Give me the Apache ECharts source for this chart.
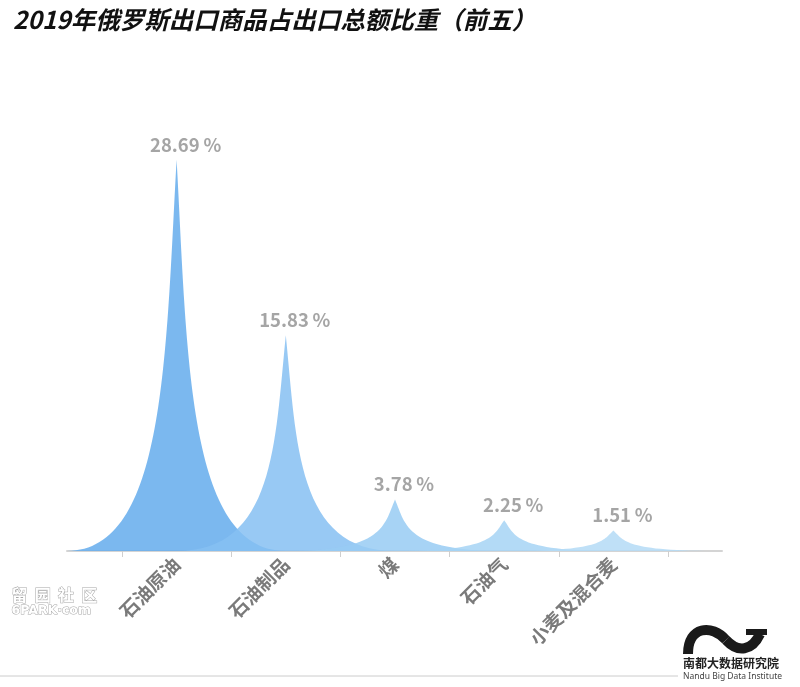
<!DOCTYPE html>
<html>
<head>
<meta charset="utf-8">
<script src="https://cdn.jsdelivr.net/npm/echarts@6/dist/echarts.min.js"></script>
<style>
html,body{margin:0;padding:0;background:#fff;}
#main{width:800px;height:687px;}
</style>
</head>
<body>
<div id="main"></div>
<script>
const categories = ['石油原油', '石油制品', '煤', '石油气', '小麦及混合麦'];
const values = [28.69, 15.83, 3.78, 2.25, 1.51];
const colors = ['#64abec', '#86c0f2', '#98cbf3', '#a6d3f4', '#b4dbf6'];
const titleText = '2019年俄罗斯出口商品占出口总额比重（前五）';

const spike = 'path://M0,10 L10,10 C5.5,10 5.5,5 5,0 C4.5,5 4.5,10 0,10 z';

const chart = echarts.init(document.getElementById('main'), null, {renderer: 'canvas'});
chart.setOption({
  backgroundColor: '#ffffff',
  animation: false,
  title: {
    text: titleText,
    left: 8, top: 2,
    textStyle: {
      fontFamily: 'Noto Sans CJK SC', fontSize: 24.5, fontWeight: 'bold',
      fontStyle: 'italic', color: '#111'
    }
  },
  grid: [
    {left: 122, right: 132, top: 142, bottom: 136},
    {left: 67, right: 78, top: 142, bottom: 136}
  ],
  xAxis: [
    {
      type: 'category', gridIndex: 0, data: categories,
      axisLine: {show: false},
      axisTick: {show: true, length: 6, lineStyle: {color: '#cfcfcf', width: 1}},
      axisLabel: {
        rotate: 45, margin: 10, interval: 0,
        fontFamily: 'Noto Sans CJK SC', fontSize: 19, fontWeight: 'bold',
        color: '#7a7a7a'
      }
    },
    {
      type: 'value', gridIndex: 1, min: 0, max: 1,
      axisLine: {show: true, onZero: false, lineStyle: {color: '#d4d4d4', width: 2}},
      axisTick: {show: false}, axisLabel: {show: false}, splitLine: {show: false}
    }
  ],
  yAxis: [
    {type: 'value', gridIndex: 0, min: 0, max: 30, show: false},
    {type: 'value', gridIndex: 1, min: 0, max: 1, show: false}
  ],
  series: [{
    type: 'pictorialBar',
    xAxisIndex: 0, yAxisIndex: 0,
    barCategoryGap: '-100%',
    symbol: spike,
    z: 10,
    data: values.map((v, i) => ({
      value: v,
      itemStyle: {color: colors[i], opacity: 0.85}
    })),
    label: {
      show: true, position: 'top', distance: 6,
      formatter: p => p.value + '\u2009%',
      fontFamily: 'Noto Sans CJK SC', fontSize: 18.5, fontWeight: 'bold',
      color: '#959595', offset: [9, 0]
    }
  }],
  graphic: [
    {type: 'line', shape: {x1: 0, y1: 676, x2: 678, y2: 676}, style: {stroke: '#cccccc', lineWidth: 1}},
    {type: 'bezierCurve', shape: {x1: 688, y1: 654, cpx1: 688, cpy1: 626, cpx2: 712, cpy2: 624, x2: 726, y2: 640},
     style: {fill: 'none', stroke: '#1a1a1a', lineWidth: 10}},
    {type: 'bezierCurve', shape: {x1: 726, y1: 640, cpx1: 738, cpy1: 653, cpx2: 752, cpy2: 651, x2: 760, y2: 634},
     style: {fill: 'none', stroke: '#1a1a1a', lineWidth: 10}},
    {type: 'line', shape: {x1: 746, y1: 632, x2: 767, y2: 632}, style: {stroke: '#1a1a1a', lineWidth: 6}},
    {type: 'text', left: 683, top: 657, style: {text: '南都大数据研究院', fontFamily: 'Noto Sans CJK SC', fontSize: 12, fontWeight: 'bold', fill: '#222'}},
    {type: 'text', left: 683, top: 672, style: {text: 'Nandu Big Data Institute', fontFamily: 'Noto Sans', fontSize: 8.5, fill: '#444'}},
    {type: 'text', left: 11, top: 586, style: {text: '留  园  社  区', fontFamily: 'Noto Sans CJK SC', fontSize: 16, fontWeight: 'bold', fill: '#ffffff', stroke: '#a8a8a8', lineWidth: 1}},
    {type: 'text', left: 11, top: 604, style: {text: '6PARK·com', fontFamily: 'DejaVu Sans', fontSize: 12.5, fontWeight: 'bold', fill: '#ffffff', stroke: '#a8a8a8', lineWidth: 1}}
  ]
});
</script>
</body>
</html>
